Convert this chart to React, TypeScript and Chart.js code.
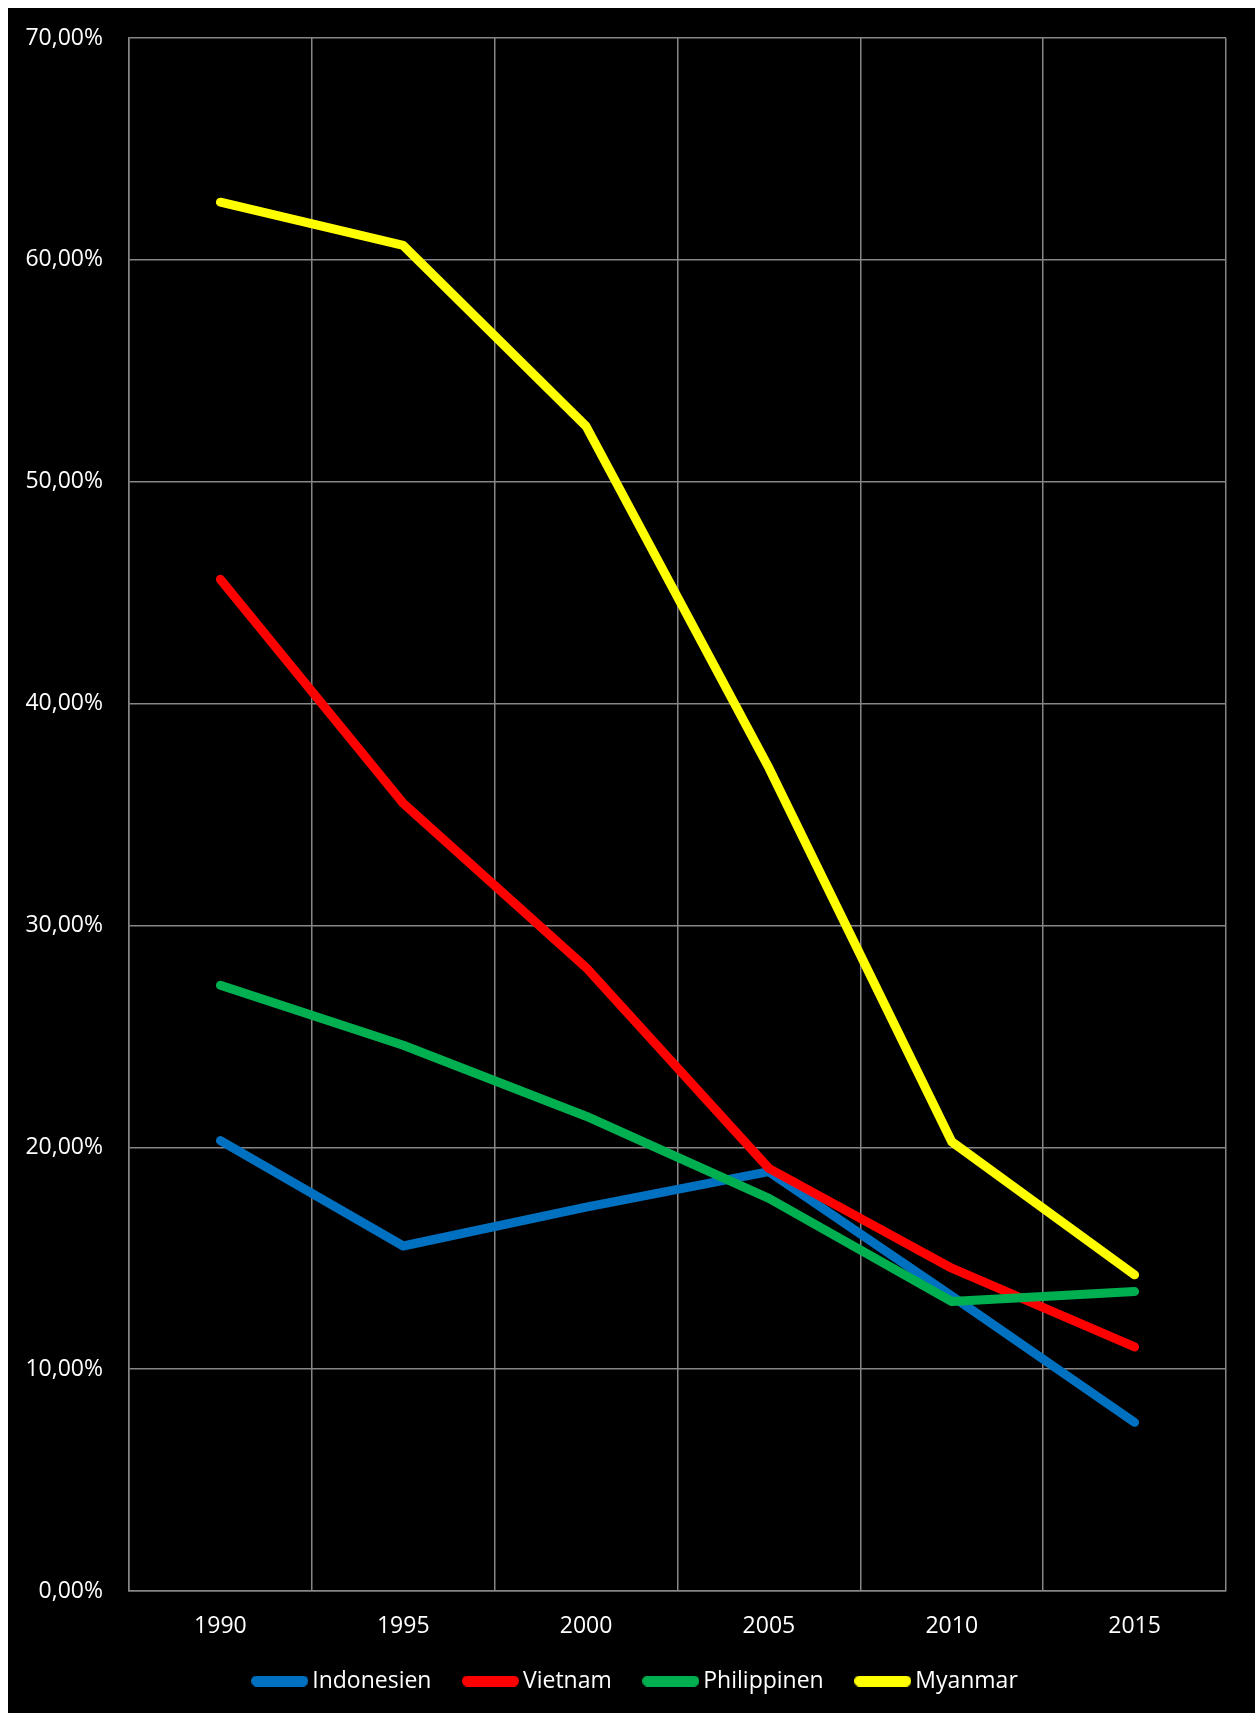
import React, { useEffect, useRef } from "react";
import { Chart, registerables } from "chart.js";

Chart.register(...registerables);

// ---- data ----
const years: string[] = ["1990", "1995", "2000", "2005", "2010", "2015"];
const indonesien: number[] = [20.3, 15.55, 17.3, 18.9, 13.3, 7.6];
const vietnam: number[] = [45.6, 35.5, 28.1, 19.05, 14.55, 11.0];
const philippinen: number[] = [27.3, 24.6, 21.4, 17.7, 13.05, 13.5];
const myanmar: number[] = [62.6, 60.65, 52.5, 37.1, 20.25, 14.25];
const seriesNames: string[] = ["Indonesien", "Vietnam", "Philippinen", "Myanmar"];
const seriesColors: string[] = ["#0070C0", "#FF0000", "#00B050", "#FFFF00"];
const yMin = 0;
const yMax = 70;
const yStep = 10;

const FONT = { family: "'Open Sans', 'DejaVu Sans', sans-serif", size: 23 };
const GRID = "#868686";

function makeSwatch(color: string): HTMLCanvasElement {
  const c = document.createElement("canvas");
  c.width = 57;
  c.height = 11;
  const ctx = c.getContext("2d")!;
  ctx.fillStyle = color;
  ctx.beginPath();
  (ctx as any).roundRect(0, 0, 57, 11, 5.5);
  ctx.fill();
  return c;
}

// nudges the legend box so it sits closer to the axis and is centred on the page
const legendPlace = {
  id: "legendPlace",
  beforeDraw(chart: any) {
    const lg = chart.legend;
    if (lg && chart.chartArea) {
      lg.left = 42.5;
      lg.top = chart.chartArea.bottom + 40.5;
    }
  },
};

export default function App() {
  const ref = useRef<HTMLCanvasElement | null>(null);

  useEffect(() => {
    if (!ref.current) return;
    const swatches = seriesColors.map(makeSwatch);
    const allSeries = [indonesien, vietnam, philippinen, myanmar];
    const chart = new Chart(ref.current, {
      type: "line",
      data: {
        labels: years,
        datasets: allSeries.map((d, i) => ({
          label: seriesNames[i],
          data: d,
          borderColor: seriesColors[i],
          backgroundColor: seriesColors[i],
          borderWidth: 9,
          borderCapStyle: "round" as const,
          borderJoinStyle: "round" as const,
          pointRadius: 0,
          pointHoverRadius: 0,
          tension: 0,
          fill: false,
          order: allSeries.length - 1 - i,
        })),
      },
      options: {
        animation: false,
        responsive: true,
        maintainAspectRatio: false,
        layout: { padding: { left: 0, right: 29, top: 30, bottom: 1.4 } },
        scales: {
          x: {
            type: "category",
            offset: true,
            grid: { offset: true, color: GRID, lineWidth: 1.5, drawTicks: false },
            border: { color: GRID, width: 1.5 },
            ticks: { color: "#ffffff", font: FONT, padding: 22, maxRotation: 0 },
            afterFit: (s: any) => {
              s.height = 49.6;
            },
          },
          y: {
            min: yMin,
            max: yMax,
            grid: {
              color: GRID,
              lineWidth: 1.5,
              drawTicks: true,
              tickLength: 26,
              tickColor: "rgba(0,0,0,0)",
            },
            border: { color: GRID, width: 1.5 },
            ticks: {
              stepSize: yStep,
              color: "#ffffff",
              font: FONT,
              padding: 0,
              callback: (v: any) => Number(v).toFixed(2).replace(".", ",") + "%",
            },
            afterFit: (s: any) => {
              s.width = 121;
            },
          },
        },
        plugins: {
          tooltip: { enabled: false },
          legend: {
            display: true,
            position: "bottom",
            labels: {
              color: "#ffffff",
              font: FONT,
              usePointStyle: true,
              pointStyleWidth: 42,
              padding: 38,
              sort: (a: any, b: any) => a.datasetIndex - b.datasetIndex,
              generateLabels: (c: any) => {
                const items = (Chart as any).defaults.plugins.legend.labels.generateLabels(c);
                return items.map((it: any) => ({ ...it, pointStyle: swatches[it.datasetIndex] }));
              },
            },
          },
        },
      },
      plugins: [legendPlace],
    });
    return () => chart.destroy();
  }, []);

  return (
    <>
      <div
        style={{
          position: "fixed",
          left: 8,
          top: 8,
          right: 0,
          bottom: 0,
          background: "#000000",
          zIndex: -1,
        }}
      />
      <div
        style={{
          width: 1247,
          height: 1705,
          marginBottom: -8,
          background: "#000000",
          position: "relative",
        }}
      >
        <canvas ref={ref} />
      </div>
    </>
  );
}
